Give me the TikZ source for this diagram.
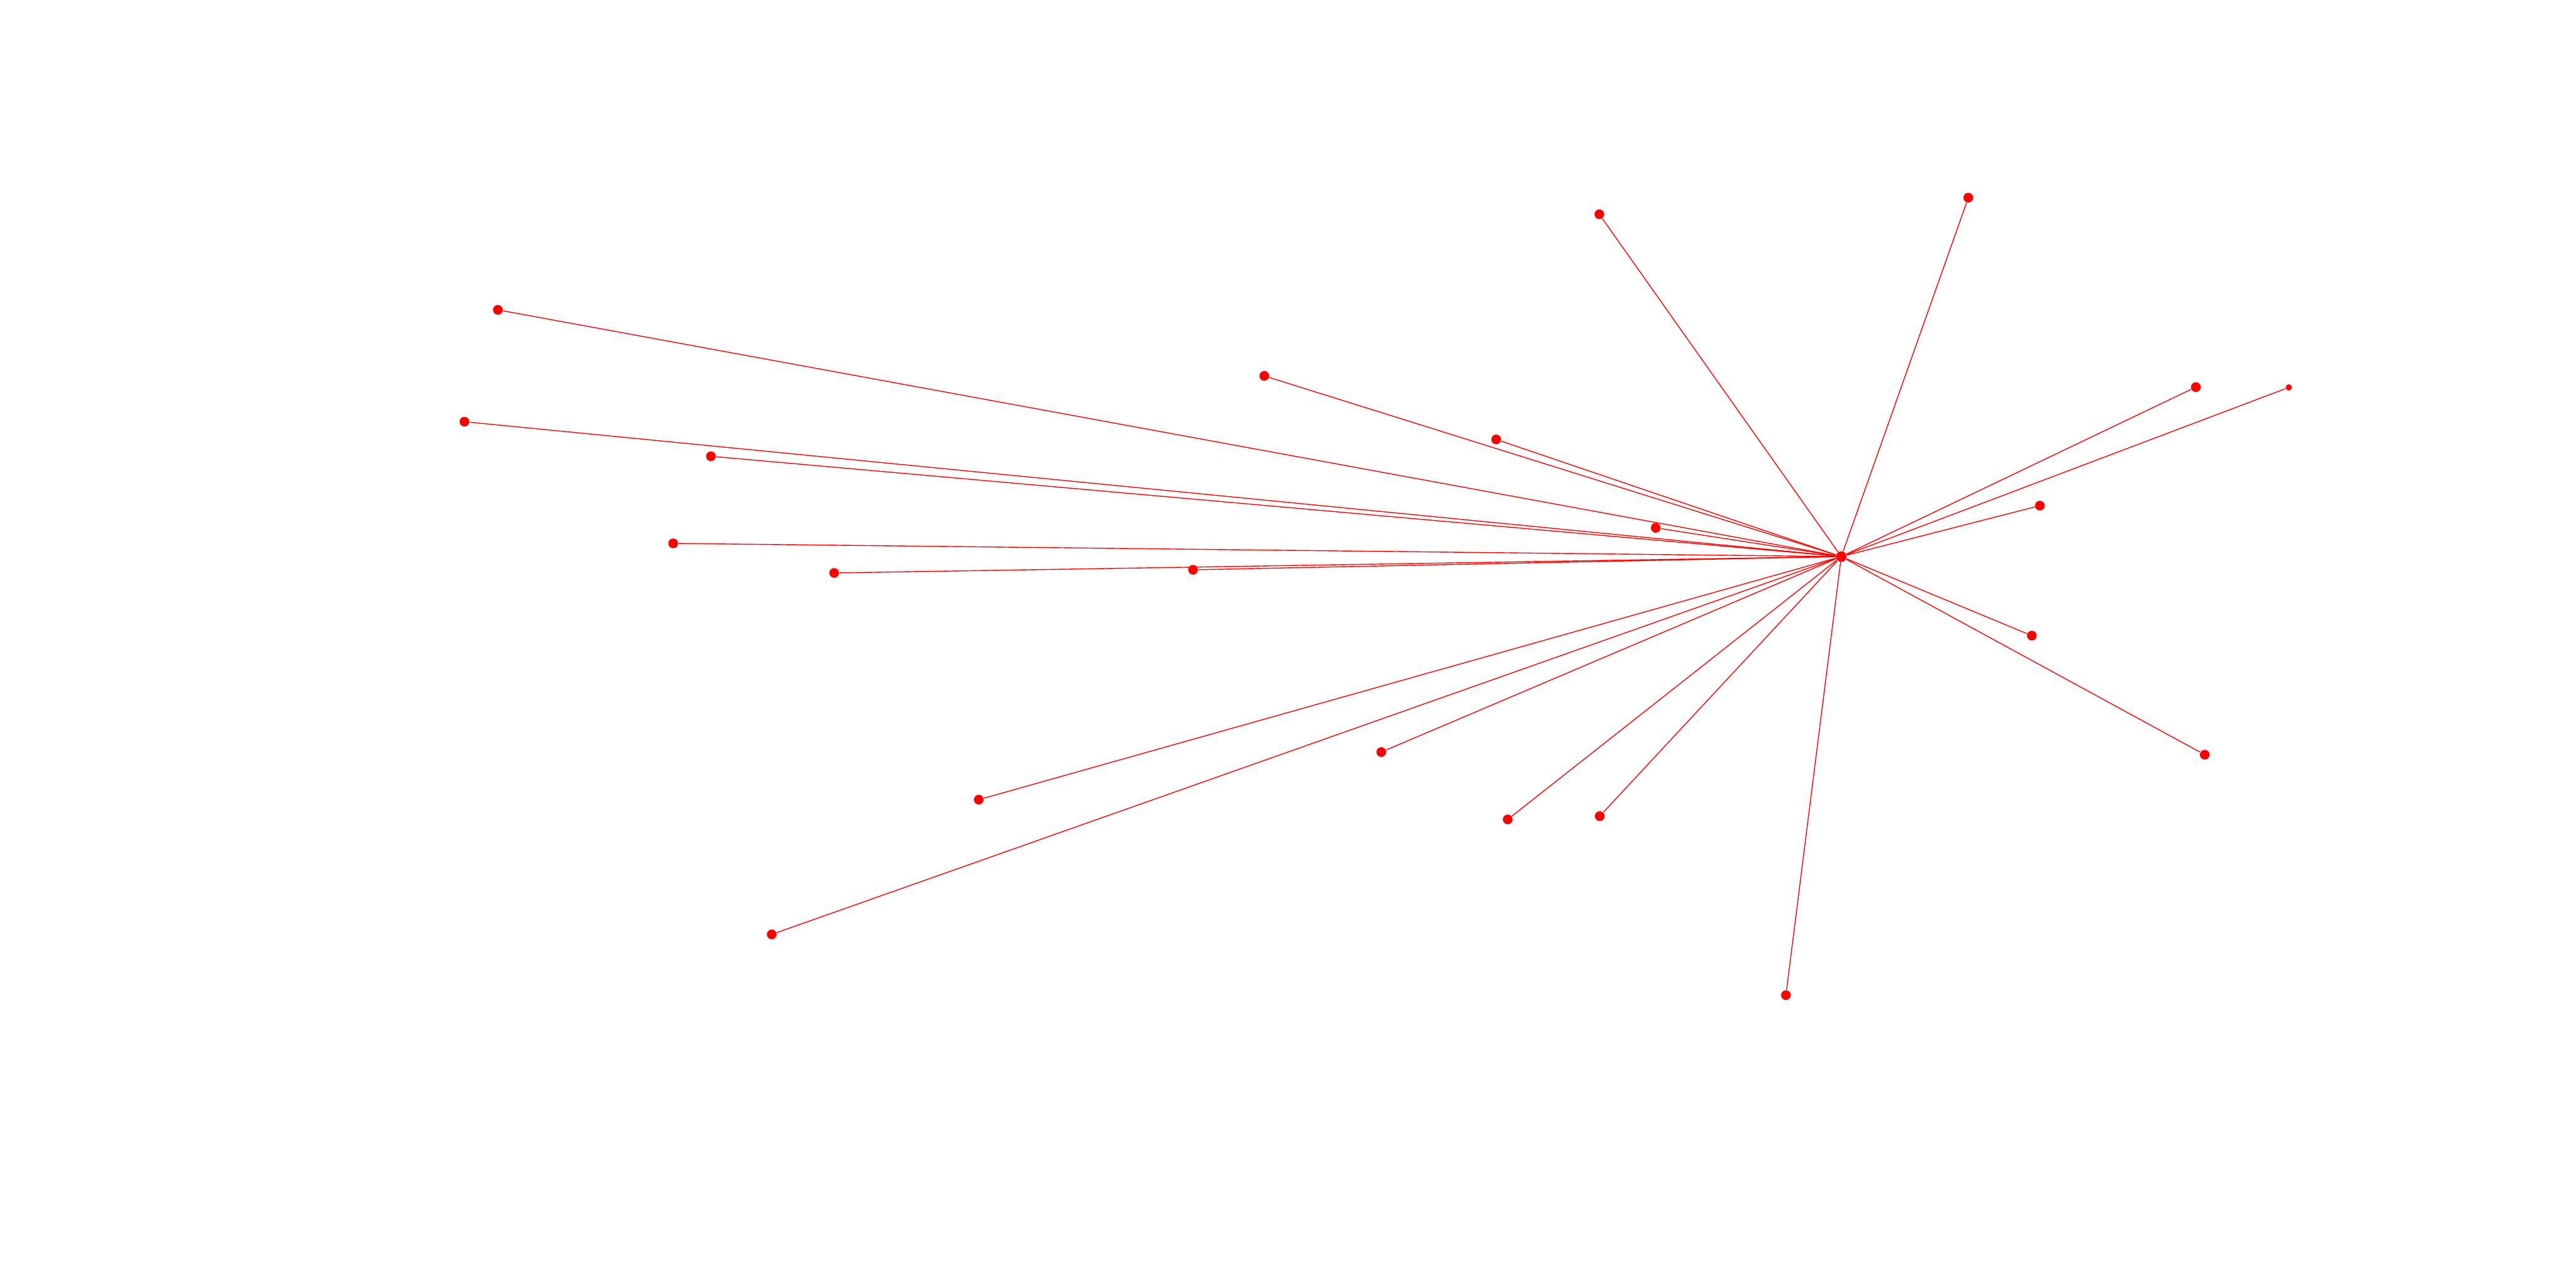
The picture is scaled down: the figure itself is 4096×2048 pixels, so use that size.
\documentclass[tikz,border=0pt]{standalone}
\begin{document}
\begin{tikzpicture}[x=0.01cm,y=-0.01cm,
  dot/.style={circle,fill=red,draw=none,inner sep=0pt,minimum size=0.155cm},
  hubdot/.style={circle,fill=red,draw=none,inner sep=0pt,minimum size=0.17cm},
  smalldot/.style={circle,fill=red,draw=none,inner sep=0pt,minimum size=0.10cm},
  edge/.style={draw=red,line width=0.4pt}]
\useasboundingbox[fill=white] (0,0) rectangle (4096,2048);
\node[hubdot] (c) at (2927.7,885) {};
\node[dot] (n1) at (3129.7,314.3) {};
\node[dot] (n2) at (2543,340.7) {};
\node[dot] (n3) at (791.7,492.7) {};
\node[dot] (n4) at (2010.3,597.7) {};
\node[dot] (n5) at (3491.5,615.5) {};
\node[smalldot] (n6) at (3639.3,616) {};
\node[dot] (n7) at (738.5,670.5) {};
\node[dot] (n8) at (2379,698.7) {};
\node[dot] (n9) at (1130.5,725.5) {};
\node[dot] (n10) at (3243.5,804.0) {};
\node[dot] (n11) at (2632.7,839.3) {};
\node[dot] (n12) at (1070.4,864.0) {};
\node[dot] (n13) at (1326.4,911.0) {};
\node[dot] (n14) at (1897,906) {};
\node[dot] (n15) at (3230.7,1010.7) {};
\node[dot] (n16) at (2196.3,1195.8) {};
\node[dot] (n17) at (3505.7,1200) {};
\node[dot] (n18) at (1556.3,1271.5) {};
\node[dot] (n19) at (2543.7,1297.7) {};
\node[dot] (n20) at (2397.4,1302.9) {};
\node[dot] (n21) at (1227.1,1485.7) {};
\node[dot] (n22) at (2839.7,1582.3) {};
\foreach \i in {1,...,22} {\draw[edge] (c) -- (n\i);}
\end{tikzpicture}
\end{document}
